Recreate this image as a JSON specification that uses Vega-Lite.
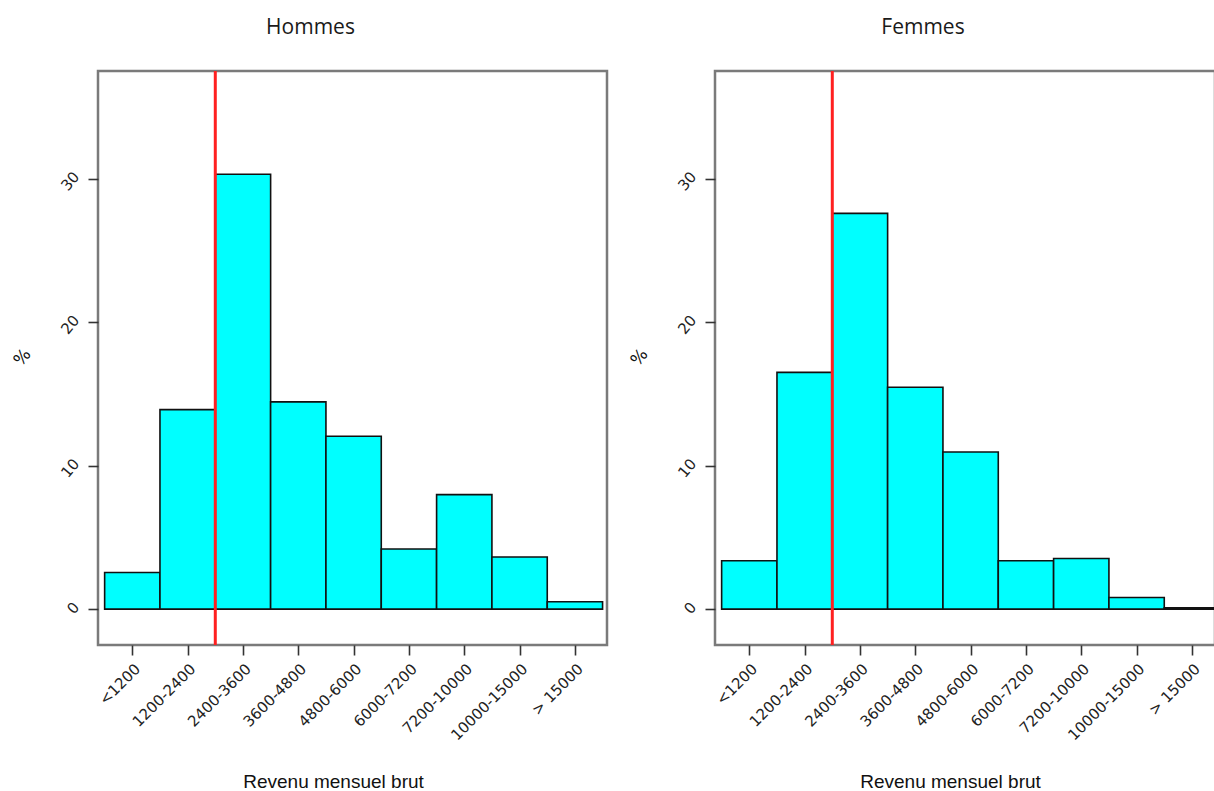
{
  "$schema": "https://vega.github.io/schema/vega-lite/v6.json",
  "padding": {"left": 8, "top": 15, "right": 0, "bottom": 0},
  "background": "white",
  "datasets": {
    "hommes": [
      {"classe": "<1200", "debut": 0, "fin": 1, "pct": 2.55},
      {"classe": "1200-2400", "debut": 1, "fin": 2, "pct": 13.9},
      {"classe": "2400-3600", "debut": 2, "fin": 3, "pct": 30.3},
      {"classe": "3600-4800", "debut": 3, "fin": 4, "pct": 14.44},
      {"classe": "4800-6000", "debut": 4, "fin": 5, "pct": 12.05},
      {"classe": "6000-7200", "debut": 5, "fin": 6, "pct": 4.19},
      {"classe": "7200-10000", "debut": 6, "fin": 7, "pct": 7.98},
      {"classe": "10000-15000", "debut": 7, "fin": 8, "pct": 3.63},
      {"classe": "> 15000", "debut": 8, "fin": 9, "pct": 0.51}
    ],
    "femmes": [
      {"classe": "<1200", "debut": 0, "fin": 1, "pct": 3.37},
      {"classe": "1200-2400", "debut": 1, "fin": 2, "pct": 16.5},
      {"classe": "2400-3600", "debut": 2, "fin": 3, "pct": 27.58},
      {"classe": "3600-4800", "debut": 3, "fin": 4, "pct": 15.46},
      {"classe": "4800-6000", "debut": 4, "fin": 5, "pct": 10.95},
      {"classe": "6000-7200", "debut": 5, "fin": 6, "pct": 3.37},
      {"classe": "7200-10000", "debut": 6, "fin": 7, "pct": 3.53},
      {"classe": "10000-15000", "debut": 7, "fin": 8, "pct": 0.81},
      {"classe": "> 15000", "debut": 8, "fin": 9, "pct": 0.1}
    ],
    "seuil": [{"position": 2}]
  },
  "config": {
    "view": {"stroke": "#7a7a7a", "strokeWidth": 2.5},
    "font": "DejaVu Sans",
    "title": {"font": "Open Sans", "fontSize": 21, "fontWeight": "normal", "color": "#1a1a1a", "offset": 32, "dx": -42},
    "axis": {
      "grid": false, "domain": false,
      "tickColor": "#333", "tickWidth": 1.6, "tickSize": 10,
      "labelColor": "#222", "labelFont": "DejaVu Sans", "labelFontSize": 15, "labelOverlap": false,
      "titleFont": "Liberation Sans", "titleFontWeight": "normal", "titleColor": "#111"
    }
  },
  "spacing": 16,
  "hconcat": [
    {
      "title": "Hommes",
      "width": 509,
      "height": 574,
      "layer": [
        {
          "data": {"name": "hommes"},
          "mark": {"type": "bar", "fill": "#00FFFF", "stroke": "#111", "strokeWidth": 1.6},
          "encoding": {
            "x": {"field": "debut", "type": "quantitative",
              "scale": {"domain": [-0.12, 9.08], "nice": false, "zero": false},
              "axis": {"values": [0.5, 1.5, 2.5, 3.5, 4.5, 5.5, 6.5, 7.5, 8.5],
                "labelExpr": "['<1200','1200-2400','2400-3600','3600-4800','4800-6000','6000-7200','7200-10000','10000-15000','> 15000'][floor(datum.value)]",
                "labelAngle": -45, "labelPadding": 6, "title": "Revenu mensuel brut", "titleFontSize": 19,
                "titleX": 235, "titleY": 142, "titleBaseline": "alphabetic", "titleAlign": "center"}},
            "x2": {"field": "fin"},
            "y": {"field": "pct", "type": "quantitative",
              "scale": {"domain": [-2.5, 37.5], "nice": false, "zero": false},
              "axis": {"values": [0, 10, 20, 30], "labelAngle": -50, "labelPadding": 6, "title": "%", "titleFontSize": 17,
                "titleAngle": -50, "titleX": -76, "titleY": 286, "titleAlign": "center", "titleBaseline": "middle", "titleFont": "DejaVu Sans"}},
            "y2": {"datum": 0}
          }
        },
        {
          "data": {"name": "seuil"},
          "mark": {"type": "rule", "color": "#ff2020", "strokeWidth": 3},
          "encoding": {"x": {"field": "position", "type": "quantitative"}}
        }
      ]
    },
    {
      "title": "Femmes",
      "width": 500,
      "height": 574,
      "layer": [
        {
          "data": {"name": "femmes"},
          "mark": {"type": "bar", "fill": "#00FFFF", "stroke": "#111", "strokeWidth": 1.6, "clip": true},
          "encoding": {
            "x": {"field": "debut", "type": "quantitative",
              "scale": {"domain": [-0.12, 8.917], "nice": false, "zero": false},
              "axis": {"values": [0.5, 1.5, 2.5, 3.5, 4.5, 5.5, 6.5, 7.5, 8.5],
                "labelExpr": "['<1200','1200-2400','2400-3600','3600-4800','4800-6000','6000-7200','7200-10000','10000-15000','> 15000'][floor(datum.value)]",
                "labelAngle": -45, "labelPadding": 6, "title": "Revenu mensuel brut", "titleFontSize": 19,
                "titleX": 235, "titleY": 142, "titleBaseline": "alphabetic", "titleAlign": "center"}},
            "x2": {"field": "fin"},
            "y": {"field": "pct", "type": "quantitative",
              "scale": {"domain": [-2.5, 37.5], "nice": false, "zero": false},
              "axis": {"values": [0, 10, 20, 30], "labelAngle": -50, "labelPadding": 6, "title": "%", "titleFontSize": 17,
                "titleAngle": -50, "titleX": -76, "titleY": 286, "titleAlign": "center", "titleBaseline": "middle", "titleFont": "DejaVu Sans"}},
            "y2": {"datum": 0}
          }
        },
        {
          "data": {"name": "seuil"},
          "mark": {"type": "rule", "color": "#ff2020", "strokeWidth": 3},
          "encoding": {"x": {"field": "position", "type": "quantitative"}}
        }
      ]
    }
  ]
}
